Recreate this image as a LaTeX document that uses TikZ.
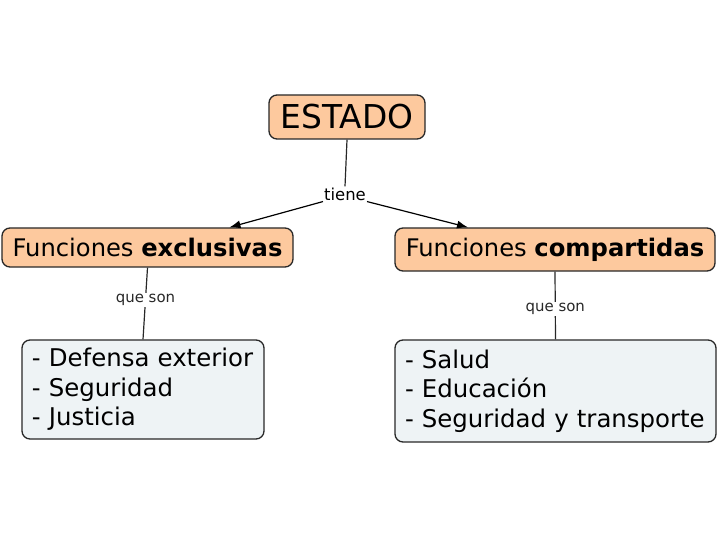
\documentclass[tikz,border=0pt]{standalone}
\usepackage{fontspec}
\setmainfont{DejaVu Sans}
\usetikzlibrary{arrows.meta, positioning}
\definecolor{conceptorange}{RGB}{253, 201, 158}
\definecolor{listblue}{RGB}{238, 243, 245}
\definecolor{edgegray}{RGB}{40, 40, 40}
\tikzset{
  >=Latex,
  concept/.style={draw=edgegray, line width=1.3bp, rounded corners=8bp, fill=conceptorange, inner sep=0pt},
  listbox/.style={draw=edgegray, line width=1.3bp, rounded corners=8bp, fill=listblue, inner xsep=10bp, inner ysep=0pt, align=left, font=\fontsize{24.5}{29.5}\selectfont},
  linkword/.style={fill=white, inner sep=1bp, font=\fontsize{15}{17}\selectfont},
  linkline/.style={line width=1.2bp, edgegray},
  linkarrow/.style={-{Latex[length=11bp, width=8bp]}, line width=1.2bp, black}
}
\begin{document}
\begin{tikzpicture}[x=1bp, y=-1bp]
    \useasboundingbox (0,0) rectangle (720,540);
    \node (estado) [concept, minimum width=156bp, minimum height=44bp, font=\fontsize{33}{35}\selectfont] at (347,117) {ESTADO};
    \node (tiene) [linkword, font=\fontsize{16.5}{18}\selectfont] at (345,194) {tiene};
    \node (excl) [concept, minimum width=291bp, minimum height=39bp, font=\fontsize{24.3}{26}\selectfont] at (147.5,247.5) {Funciones \textbf{exclusivas}};
    \node (comp) [concept, minimum width=320bp, minimum height=43bp, font=\fontsize{24.3}{26}\selectfont] at (555,249.5) {Funciones \textbf{compartidas}};
    \node (listexcl) [listbox, text width=222bp, minimum height=99bp] at (143,389.5) {- Defensa exterior\\- Seguridad\\- Justicia};
    \node (listcomp) [listbox, text width=301bp, minimum height=102bp] at (555.5,391) {- Salud\\- Educación\\- Seguridad y transporte};
    % enlaces
    \draw[linkline] (estado.south) -- (tiene.north);
    \draw[linkarrow] (tiene.south west) -- ([xshift=82bp]excl.north);
    \draw[linkarrow] (tiene.south east) -- ([xshift=-87bp]comp.north);
    \draw[linkline] (excl.south) -- node[linkword, pos=0.45] {que son} (listexcl.north);
    \draw[linkline] (comp.south) -- node[linkword, pos=0.55] {que son} (listcomp.north);
\end{tikzpicture}
\end{document}
